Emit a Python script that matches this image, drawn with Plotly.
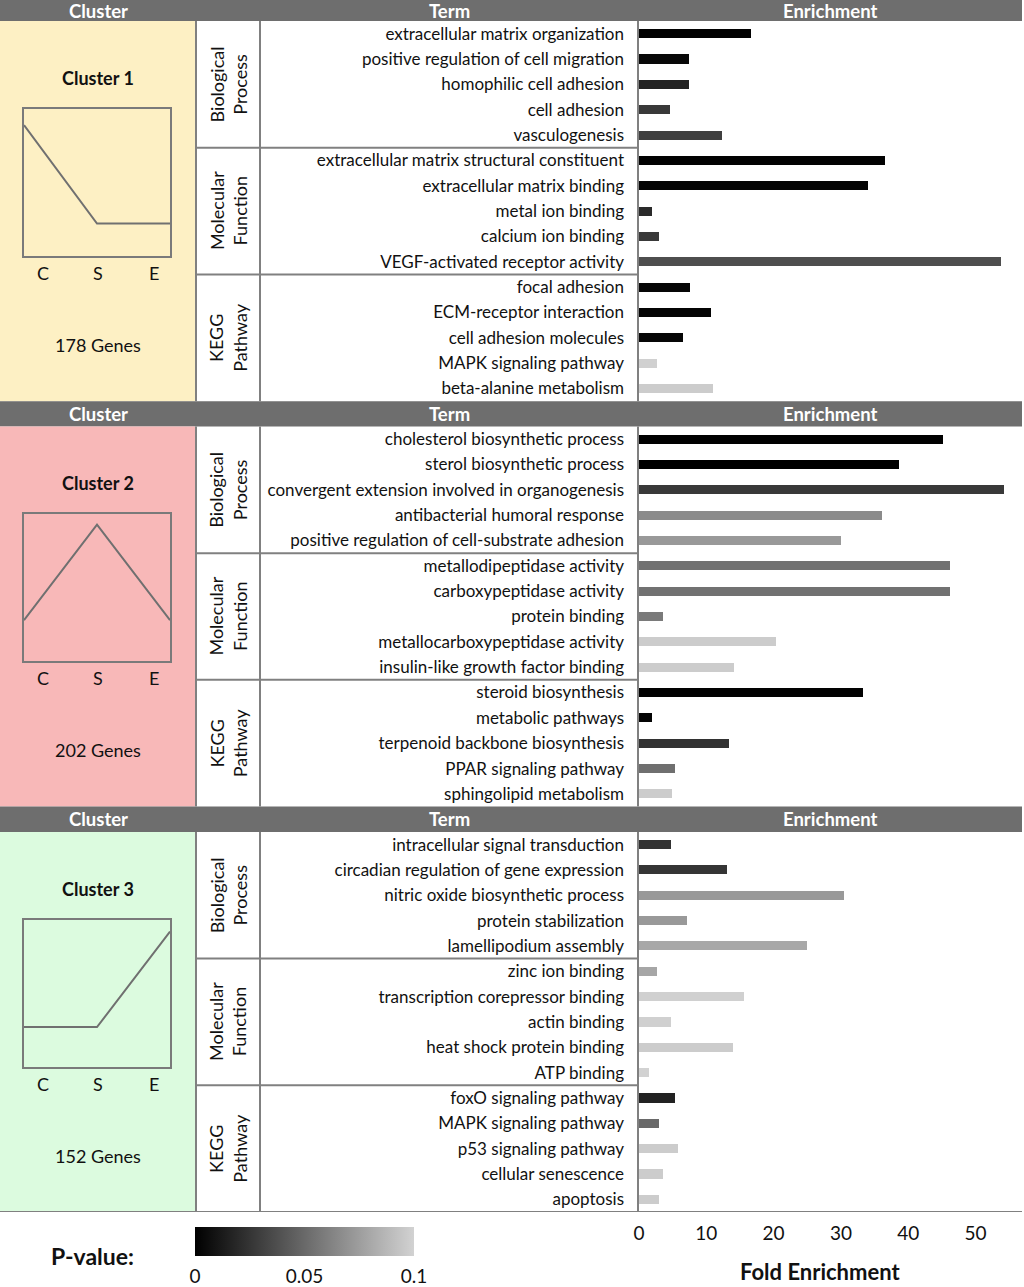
import plotly.graph_objects as go

# --- data ---
clusters = ["Cluster 1", "Cluster 2", "Cluster 3"]
gene_counts = [178, 202, 152]
cluster_colors = ["#fdf0c4", "#f8b8b8", "#dcfbdf"]
profile_labels = ["C", "S", "E"]
profiles = [
    [0.89, 0.22, 0.22],
    [0.28, 0.93, 0.28],
    [0.27, 0.27, 0.92],
]
categories = ["Biological<br>Process", "Molecular<br>Function", "KEGG<br>Pathway"]

terms_c1 = ["extracellular matrix organization", "positive regulation of cell migration",
            "homophilic cell adhesion", "cell adhesion", "vasculogenesis",
            "extracellular matrix structural constituent", "extracellular matrix binding",
            "metal ion binding", "calcium ion binding", "VEGF-activated receptor activity",
            "focal adhesion", "ECM-receptor interaction", "cell adhesion molecules",
            "MAPK signaling pathway", "beta-alanine metabolism"]
fold_c1 = [16.6, 7.4, 7.5, 4.6, 12.3, 36.5, 34.1, 2.0, 2.9, 53.8, 7.6, 10.7, 6.5, 2.6, 11.0]
pval_c1 = [0.001, 0.004, 0.016, 0.027, 0.030, 0.001, 0.002, 0.020, 0.027, 0.037,
           0.003, 0.002, 0.003, 0.099, 0.097]

terms_c2 = ["cholesterol biosynthetic process", "sterol biosynthetic process",
            "convergent extension involved in organogenesis", "antibacterial humoral response",
            "positive regulation of cell-substrate adhesion", "metallodipeptidase activity",
            "carboxypeptidase activity", "protein binding", "metallocarboxypeptidase activity",
            "insulin-like growth factor binding", "steroid biosynthesis", "metabolic pathways",
            "terpenoid backbone biosynthesis", "PPAR signaling pathway", "sphingolipid metabolism"]
fold_c2 = [45.1, 38.6, 54.3, 36.1, 30.0, 46.2, 46.2, 3.6, 20.4, 14.1, 33.3, 2.0, 13.4, 5.3, 4.9]
pval_c2 = [0.000, 0.000, 0.027, 0.066, 0.073, 0.054, 0.054, 0.058, 0.097, 0.097,
           0.001, 0.002, 0.024, 0.053, 0.097]

terms_c3 = ["intracellular signal transduction", "circadian regulation of gene expression",
            "nitric oxide biosynthetic process", "protein stabilization", "lamellipodium assembly",
            "zinc ion binding", "transcription corepressor binding", "actin binding",
            "heat shock protein binding", "ATP binding", "foxO signaling pathway",
            "MAPK signaling pathway", "p53 signaling pathway", "cellular senescence", "apoptosis"]
fold_c3 = [4.7, 13.1, 30.4, 7.2, 24.9, 2.6, 15.6, 4.8, 14.0, 1.5, 5.4, 2.9, 5.8, 3.5, 3.0]
pval_c3 = [0.024, 0.025, 0.073, 0.073, 0.080, 0.079, 0.099, 0.099, 0.097, 0.100,
           0.016, 0.050, 0.097, 0.097, 0.097]

x_ticks = [0, 10, 20, 30, 40, 50]
p_ticks = [0, 0.05, 0.1]
p_ticktext = ["0", "0.05", "0.1"]

W, H = 1024, 1287
FONT = "Lato"
LINE = "#808080"
HEAD = "#6e6e6e"
TXT = "#111111"

# rows: each cluster block = 1 header row + 15 term rows
ROW0 = 0.17
TABLE_BOTTOM = 1212
ROW_PX = TABLE_BOTTOM / (48 - ROW0)


def px(xp):
    return xp / W


def py(row):
    # row unit -> paper y
    return 1 - (row - ROW0) * ROW_PX / H


def label(text, x, y, size, color=TXT, yref="y", **kw):
    return dict(text=text, xref="paper", yref=yref, x=x, y=y, xanchor="center",
                yanchor="middle", showarrow=False,
                font=dict(size=size, color=color, family=FONT), **kw)


all_terms = [terms_c1, terms_c2, terms_c3]
all_fold = [fold_c1, fold_c2, fold_c3]
all_p = [pval_c1, pval_c2, pval_c3]

ypos, terms, folds, pvals = [], [], [], []
for k in range(3):
    for i in range(15):
        ypos.append(16 * k + 1 + i + 0.5)
        terms.append(all_terms[k][i])
        folds.append(all_fold[k][i])
        pvals.append(all_p[k][i])

fig = go.Figure()

fig.add_trace(go.Bar(
    orientation="h", x=folds, y=ypos, width=0.36,
    marker=dict(
        color=pvals, cmin=0, cmax=0.1,
        colorscale=[[0, "#000000"], [1, "#d2d2d2"]],
        line=dict(width=0),
        colorbar=dict(
            orientation="h", x=px(304.5), xanchor="center", lenmode="fraction",
            len=219 / W, thickness=29, y=1 - 1227 / H, yanchor="top",
            xpad=0, ypad=0, outlinewidth=0,
            tickvals=p_ticks, ticktext=p_ticktext,
            ticks="outside", ticklen=5, tickcolor="rgba(0,0,0,0)",
            tickfont=dict(size=19, color=TXT, family=FONT),
        ),
    ),
    showlegend=False, hoverinfo="x",
))

# small profile charts
for k in range(3):
    n = k + 2
    fig.add_trace(go.Scatter(
        x=[0, 1, 2], y=profiles[k], mode="lines",
        line=dict(color="#707070", width=2),
        xaxis=f"x{n}", yaxis=f"y{n}", showlegend=False, hoverinfo="skip",
    ))
    box = dict(showline=True, mirror=True, linecolor="#7a7a7a", linewidth=2,
               showgrid=False, zeroline=False, showticklabels=False, ticks="",
               fixedrange=True)
    fig.layout[f"xaxis{n}"] = dict(box, domain=[px(24), px(170)], range=[0, 2],
                                   anchor=f"y{n}")
    fig.layout[f"yaxis{n}"] = dict(box, domain=[py(16 * k + 10.27), py(16 * k + 4.47)],
                                   range=[0, 1], anchor=f"x{n}")

shapes = []
annotations = []
for k in range(3):
    top = 16 * k
    shapes.append(dict(type="rect", xref="paper", yref="y", x0=0, x1=px(1022),
                       y0=top, y1=top + 1, fillcolor=HEAD, line=dict(width=0), layer="below"))
    shapes.append(dict(type="rect", xref="paper", yref="y", x0=0, x1=px(195),
                       y0=top + 1, y1=top + 16, fillcolor=cluster_colors[k],
                       line=dict(width=0), layer="below"))
    for xv in (196, 260, 638):
        shapes.append(dict(type="line", xref="paper", yref="y", x0=px(xv), x1=px(xv),
                           y0=top + 1, y1=top + 16, line=dict(color=LINE, width=2)))
    for yv in (top + 6, top + 11):
        shapes.append(dict(type="line", xref="paper", yref="y", x0=px(196), x1=px(638),
                           y0=yv, y1=yv, line=dict(color=LINE, width=2)))

    hy = max(top, ROW0)
    for head, xv in (("Cluster", 98), ("Term", 449), ("Enrichment", 830)):
        annotations.append(label(f"<b>{head}</b>", px(xv), (hy + top + 1) / 2, 18.5,
                                 color="white"))
    annotations.append(label(f"<b>{clusters[k]}</b>", px(98), top + 3.25, 18))
    annotations.append(label(f"{gene_counts[k]} Genes", px(98), top + 13.78, 18))
    for lab, xv in zip(profile_labels, (43, 98, 154)):
        annotations.append(label(lab, px(xv), top + 10.94, 18))
    for j, cat in enumerate(categories):
        annotations.append(label(cat, px(228), top + 1 + 2.5 + 5 * j, 18, textangle=-90))

shapes.append(dict(type="line", xref="paper", yref="y", x0=0, x1=px(1022), y0=48, y1=48,
                   line=dict(color=LINE, width=2)))

annotations.append(label("<b>P-value:</b>", px(92), 1 - 1256 / H, 23, yref="paper"))
annotations.append(label("<b>Fold Enrichment</b>", px(820), 1 - 1271 / H, 22, yref="paper"))

fig.update_layout(
    width=W, height=H, margin=dict(l=0, r=0, t=0, b=0, autoexpand=False),
    paper_bgcolor="white", plot_bgcolor="rgba(0,0,0,0)",
    font=dict(family=FONT, color=TXT),
    bargap=0,
    xaxis=dict(domain=[px(639), px(1022)], range=[0, 383 / 6.73], tickvals=x_ticks,
               showgrid=False, zeroline=False, showline=False, ticks="",
               ticklabelstandoff=8, tickfont=dict(size=19, color=TXT, family=FONT),
               fixedrange=True),
    yaxis=dict(domain=[1 - TABLE_BOTTOM / H, 1], range=[48, ROW0], tickvals=ypos,
               ticktext=terms, showgrid=False, zeroline=False, showline=False, ticks="",
               ticklabelstandoff=14, tickfont=dict(size=17, color=TXT, family=FONT),
               fixedrange=True),
    shapes=shapes, annotations=annotations,
)

# page body has a default 8px margin; drop it so the figure sits at the corner
fig.write_html("out.html", config={"displayModeBar": False},
               post_script="document.body.style.margin='0px';")
